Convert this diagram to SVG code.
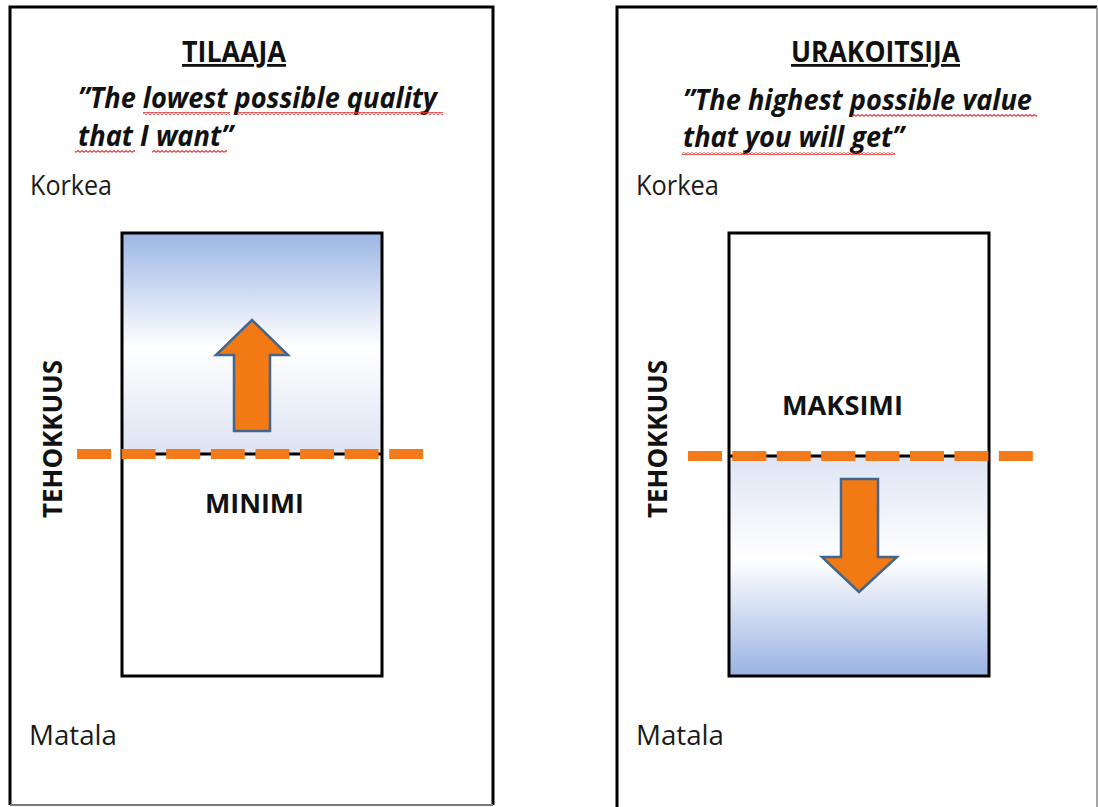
<svg xmlns="http://www.w3.org/2000/svg" width="1098" height="807" viewBox="0 0 1098 807">
  <defs>
    <linearGradient id="gUp" x1="0" y1="0" x2="0" y2="1">
      <stop offset="0" stop-color="#9DB6E4"/>
      <stop offset="0.52" stop-color="#FFFFFF"/>
      <stop offset="1" stop-color="#DCE3F2"/>
    </linearGradient>
    <linearGradient id="gDown" x1="0" y1="0" x2="0" y2="1">
      <stop offset="0" stop-color="#DDE4F3"/>
      <stop offset="0.47" stop-color="#FFFFFF"/>
      <stop offset="1" stop-color="#9AB3E2"/>
    </linearGradient>
    <pattern id="wave" x="0" y="0" width="4" height="3" patternUnits="userSpaceOnUse">
      <polyline points="0,2.4 2,0.6 4,2.4" fill="none" stroke="#E53935" stroke-width="1.2"/>
    </pattern>
  </defs>
  <style>
    .frame { fill: none; stroke: #000; stroke-width: 3; }
    .inner { stroke: #000; stroke-width: 3; }
    .title { font-family: "Open Sans", "Liberation Sans", sans-serif; font-weight: bold; font-size: 28px; fill: #111; text-decoration: underline; }
    .quote { font-family: "Open Sans", "Liberation Sans", sans-serif; font-weight: bold; font-style: italic; font-size: 28px; fill: #111; }
    .level { font-family: "Open Sans", "Liberation Sans", sans-serif; font-size: 27px; fill: #1a1a1a; }
    .axis { font-family: "Open Sans", "Liberation Sans", sans-serif; font-weight: bold; font-size: 27px; fill: #111; }
    .mark { font-family: "Open Sans", "Liberation Sans", sans-serif; font-weight: bold; font-size: 26px; fill: #111; }
    .dash { stroke: #F27A1A; stroke-width: 10; fill: none; }
    .arrow { fill: #F27A14; stroke: #41668F; stroke-width: 2.5; stroke-linejoin: miter; }
    .wv { fill: url(#wave); }
  </style>

  <!-- Left panel: TILAAJA -->
  <g id="panel-tilaaja">
    <path d="M10,805 L10,7 L493,7 L493,805" class="frame"/>
    <line x1="10" y1="805" x2="493" y2="805" stroke="#777" stroke-width="2"/>
    <text x="182" y="62" class="title" textLength="104" lengthAdjust="spacingAndGlyphs">TILAAJA</text>
    <text x="78" y="108" class="quote" textLength="359" lengthAdjust="spacingAndGlyphs">”The lowest possible quality</text>
    <text x="78" y="146" class="quote" textLength="155" lengthAdjust="spacingAndGlyphs">that I want”</text>
    <rect x="143" y="112" width="87" height="3" class="wv"/>
    <rect x="237" y="112" width="206" height="3" class="wv"/>
    <rect x="75" y="150" width="60" height="3" class="wv"/>
    <rect x="152" y="150" width="75" height="3" class="wv"/>
    <text x="30" y="195" class="level" textLength="82" lengthAdjust="spacingAndGlyphs">Korkea</text>
    <text x="29" y="745" class="level" textLength="88" lengthAdjust="spacingAndGlyphs">Matala</text>
    <text transform="translate(62,439) rotate(-90)" text-anchor="middle" class="axis" textLength="158" lengthAdjust="spacingAndGlyphs">TEHOKKUUS</text>
  </g>

  <g id="box-minimi">
    <rect x="122" y="233" width="260" height="221" fill="url(#gUp)"/>
    <rect x="122" y="233" width="260" height="443" fill="none" class="inner"/>
    <line x1="122" y1="454" x2="382" y2="454" stroke="#000" stroke-width="3"/>
    <text x="205" y="513" class="mark" textLength="99" lengthAdjust="spacingAndGlyphs">MINIMI</text>
  </g>

  <!-- Right panel: URAKOITSIJA -->
  <g id="panel-urakoitsija">
    <path d="M617,812 L617,7 L1097,7" class="frame"/>
    <line x1="1097" y1="7" x2="1097" y2="812" stroke="#888" stroke-width="1.5"/>
    <text x="791" y="62" class="title" textLength="169" lengthAdjust="spacingAndGlyphs">URAKOITSIJA</text>
    <text x="683" y="110" class="quote" textLength="349" lengthAdjust="spacingAndGlyphs">”The highest possible value</text>
    <text x="683" y="147" class="quote" textLength="221" lengthAdjust="spacingAndGlyphs">that you will get”</text>
    <rect x="852" y="114" width="185" height="3" class="wv"/>
    <rect x="682" y="152" width="213" height="3" class="wv"/>
    <text x="636" y="195" class="level" textLength="83" lengthAdjust="spacingAndGlyphs">Korkea</text>
    <text x="636" y="745" class="level" textLength="88" lengthAdjust="spacingAndGlyphs">Matala</text>
    <text transform="translate(667,439) rotate(-90)" text-anchor="middle" class="axis" textLength="158" lengthAdjust="spacingAndGlyphs">TEHOKKUUS</text>
  </g>

  <g id="box-maksimi">
    <rect x="729" y="456" width="260" height="220" fill="url(#gDown)"/>
    <rect x="729" y="233" width="260" height="443" fill="none" class="inner"/>
    <line x1="729" y1="456" x2="989" y2="456" stroke="#000" stroke-width="3"/>
    <text x="782" y="415" class="mark" textLength="121" lengthAdjust="spacingAndGlyphs">MAKSIMI</text>
  </g>

  <!-- Connectors: dashed threshold lines and arrows -->
  <g id="connectors">
    <line x1="77" y1="454" x2="423" y2="454" class="dash" stroke-dasharray="34 10.6"/>
    <line x1="688" y1="456" x2="1034" y2="456" class="dash" stroke-dasharray="34 10.4"/>
    <polygon class="arrow" points="252,320 288,355 270,355 270,431 234,431 234,355 216,355"/>
    <polygon class="arrow" points="841,479 878,479 878,557 897,557 859,592 822,557 841,557"/>
  </g>
</svg>
